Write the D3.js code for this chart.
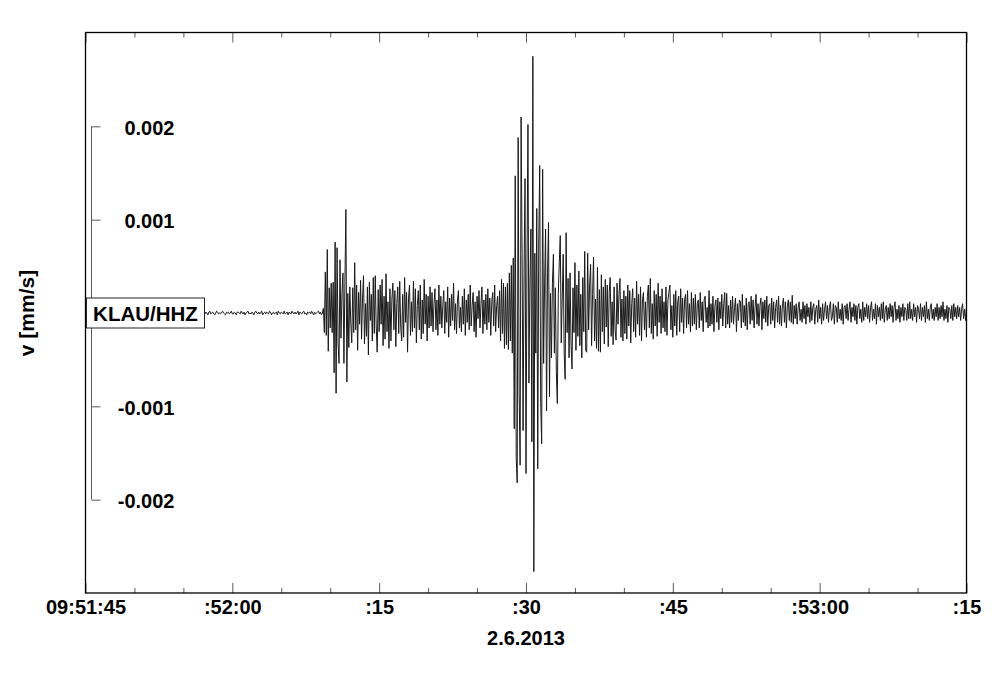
<!DOCTYPE html>
<html><head><meta charset="utf-8">
<script src="https://cdn.jsdelivr.net/npm/d3@7"></script>
<style>
html,body{margin:0;padding:0;background:#fff;}
svg{display:block;}
</style></head><body>
<svg id="chart" width="1000" height="677"></svg>
<script>
// ---------- DATA ----------
const stationLabel = "KLAU/HHZ";
const yAxisTitle = "v [mm/s]";
const dateLabel = "2.6.2013";
const timeStart = "2013-06-02T09:51:45Z";
const timeEnd = "2013-06-02T09:53:15Z";
const traceStart = "2013-06-02T09:51:57Z";
const sampleStepSec = 0.1;          // one value every 0.1 s
const valueUnit = 1e-5;              // trace values below are in 1e-5 mm/s

const quietNoise = [
 0,1,-1,1,0,-2,1,2,-1,0, 1,-1,-2,0,2,1,-1,0,-1,1, 2,0,-1,-2,1,0,1,-1,0,2, -1,-1,1,0,-2,1,1,0,-1,2,
 0,-1,1,-2,0,1,2,-1,0,-1, 1,0,-2,1,2,0,-1,1,-1,0, 2,-2,0,1,-1,1,0,-1,2,1, -2,0,1,-1,0,1,-2,2,0,-1,
 1,0,-1,2,-1,0,1,-2,1,0, -1,2,0,-1,1,-1,0,2,-2,1, 0,-1,1,2,-1,0,-2,1,0,1, -1,2,0,-2,1,-1,0,1,2,-1, 1,-2,0
];
const pPhase = [
 5,-21,44,-24,68,-41,27,-16,32,-21,33,-64,76,-86,70,-32,-54,57,-27,21,43,-54,32,111,-74,21,-37,28,-11,-32,27,-21,54
];
const pCoda = [
 -18,30,-40,22,-12,35,-28,15,40,-33, 10,-25,28,-45,33,-8,20,-30,38,-22, 40,-15,-42,25,-20,30,-12,36,-35,18, -28,42,-20,12,-38,26,
 -30,15,32,-18,24,-36,10,28,-22,34, -14,-30,20,-26,38,-10,22,-42,16,30, -24,12,-20,34,-16,26,-32,8,24,-18, 30,-28,14,-22,36,-12,20,-30,18,-16, 28,
 -14,22,-20,10,26,-18,14,-24,30,-12, 18,-16,8,24,-22,12,-10,28,-26,16, -14,20,-8,32,-18,10,-22,14,24,-16, 6,-20,18,-12,26,-24,14,-10,20,-18,
 30,-14,8,22,-20,12,-26,18,-6,24, -16,10,28,-22,14,-12,20,-18,26,-10, 16,-24,12,22,-14,30,-20,8,18,-16,
 24,-30,36,-22,32,-38,28,-34
];
const sPhase = [
 32,-39,43,-30,51,-43,59,-124,147,-155, -182,188,-86,-163,210,64,-126,43,144,-172, 54,202,-75,32,90,-138,275,-277,64,-43, 112,-167,75,158,-96
];
const sCoda = [
 -140,154,-54,32,90,-105,43,97,-90,21, -48,32,63,-43,27,-64,-97,21,54,83, -32,16,63,-43,-71,86,-21,37,-48,43, -32,-60,27,-21,54,
 -40,30,-25,45,-35,20,-48,38,-20,66, -40,-42,64,-18,30,52,-35,20,60,-30, 15,-38,49,-41,25,-42,41,-20,28,-33, 36,-15,30,-36,22,38,-25,12,-34,28, -18,-29,32,-12,20,37,-26,15,-30,24,
 -22,18,-28,30,-14,24,-32,10,26,-20, 16,-26,34,-12,20,-24,28,-30,14,22, -18,12,-26,18,30,-16,37,-22,10,-28, 24,-14,20,-25,32,-10,18,-22,26,-16,
 12,-20,28,-24,14,22,30,-18,8,-26, 20,-14,24,-24,12,18,-20,26,-10,16, -22,14,20,-16,24,-12,10,-20,22,-14
];
const lateCoda = [
 16,-12,20,-18,10,14,-16,22,-8,12, -20,14,18,-10,6,-16,24,-14,10,-12, 18,-20,8,14,-10,16,-18,12,-6,20, -14,10,22,-16,21,-12,8,-16,14,-10,
 18,-12,6,16,-20,10,-8,14,12,-16, 20,-10,8,-14,16,-18,10,12,-12,18, -8,14,-16,6,20,-12,10,-14,8,16, -18,12,-6,14,-10,18,-14,8,10,-12,
 16,-8,12,-16,6,14,-10,18,-12,8, -14,10,16,-10,12,-16,8,14,-8,12,
 -10,19,-12,8,-6,10,-12,6,12,-8, 4,-10,12,-6,8,-12,10,-4,6,-10, 12,-8,6,10,-12,4,8,-10,14,-6, 6,-12,10,-8,4,12,-6,8,-10,6,
 12,-8,-4,10,-12,8,6,-10,12,-6, 4,-8,10,-12,6,8,-6,10,-8,4, 12,-10,6,-4,10,-8,8,-12,6,10, -6,4,-10,12,-8,6,-4,10,-6,8,
 -10,6,12,-8,4,-6,10,-12,8,-4, 6,-8,10,-6,12,-10,4,8,-8,6, -6,10,-4,8,-10,6,12,-8,4,-6, 8,-10,6,-4,10,-8,6,4,-8,10,
 -6,12,-6,4,-8,10,-4,6,-10,8, 4,-6,10,-8,6,-4,8,-10,12,-6, 4,-8,6,10,-6,4,-8,6,-4,10, -8,6,-6,8,-4,12,-8,4,-6,8,
 -10,6,4,-6,8,-8,10,-4,6,-6, 8,-4,6,-8,4,10,-6,4,-8,6
];

const xTickLabels = ["09:51:45", ":52:00", ":15", ":30", ":45", ":53:00", ":15"];
const yTickValues = [0.002, 0.001, -0.001, -0.002];
const yTickLabels = ["0.002", "0.001", "-0.001", "-0.002"];
const yDomain = [-0.003, 0.003];

// ---------- LAYOUT ----------
const W = 1000, H = 677;
const frame = {left: 85.5, right: 966.5, top: 32.5, bottom: 593};
const FONT = "'Liberation Sans', Arial, Helvetica, sans-serif";
const tickColor = "#5a5a5a";

const svg = d3.select("#chart");
svg.append("rect").attr("width", W).attr("height", H).attr("fill", "#fff");

const parse = d3.utcParse("%Y-%m-%dT%H:%M:%SZ");
const t0 = parse(timeStart), t1 = parse(timeEnd), tr0 = parse(traceStart);

const x = d3.scaleUtc().domain([t0, t1]).range([frame.left, frame.right]);
const y = d3.scaleLinear().domain(yDomain).range([frame.bottom, frame.top + 0.5]);

const trace = [].concat(quietNoise, pPhase, pCoda, sPhase, sCoda, lateCoda);

// trace
const line = d3.line()
  .x((d, i) => x(new Date(tr0.getTime() + i * sampleStepSec * 1000)))
  .y(d => y(d * valueUnit));

svg.append("defs").append("clipPath").attr("id", "plotclip")
  .append("rect").attr("x", frame.left).attr("y", frame.top)
  .attr("width", frame.right - frame.left).attr("height", frame.bottom - frame.top);

svg.append("path")
  .datum(trace)
  .attr("clip-path", "url(#plotclip)")
  .attr("d", line)
  .attr("fill", "none")
  .attr("stroke", "#1a1a1a")
  .attr("stroke-width", 1)
  .attr("stroke-linejoin", "round");

// x axes (ticks inward)
const majorTicks = x.ticks(d3.utcSecond.every(15));
const minorTicks = x.ticks(d3.utcSecond.every(5)).filter(d => d.getUTCSeconds() % 15 !== 0);

function styleAxis(g) {
  g.select(".domain").remove();
  g.attr("color", tickColor);
  g.selectAll(".tick line").attr("stroke-width", 1);
}

svg.append("g").attr("transform", `translate(0,${frame.bottom})`)
  .call(d3.axisBottom(x).tickValues(minorTicks).tickSizeInner(-5).tickSizeOuter(0).tickFormat(""))
  .call(styleAxis);
const xb = svg.append("g").attr("transform", `translate(0,${frame.bottom})`)
  .call(d3.axisBottom(x).tickValues(majorTicks).tickSizeInner(-10).tickSizeOuter(0)
        .tickPadding(7).tickFormat((d, i) => xTickLabels[i]))
  .call(styleAxis);
xb.attr("font-family", FONT).attr("font-size", 20).attr("font-weight", "bold");
xb.selectAll(".tick text").attr("fill", "#000");

svg.append("g").attr("transform", `translate(0,${frame.top})`)
  .call(d3.axisTop(x).tickValues(minorTicks).tickSizeInner(-5).tickSizeOuter(0).tickFormat(""))
  .call(styleAxis);
svg.append("g").attr("transform", `translate(0,${frame.top})`)
  .call(d3.axisTop(x).tickValues(majorTicks).tickSizeInner(-10).tickSizeOuter(0).tickFormat(""))
  .call(styleAxis);

// frame
svg.append("rect")
  .attr("x", frame.left).attr("y", frame.top)
  .attr("width", frame.right - frame.left).attr("height", frame.bottom - frame.top)
  .attr("fill", "none").attr("stroke", "#000").attr("stroke-width", 1.3);

// y bracket axis
const yAxisX = 91.5;
const yg = svg.append("g").attr("transform", `translate(${yAxisX},0)`)
  .call(d3.axisRight(y).tickValues(yTickValues).tickSizeInner(9).tickSizeOuter(0)
        .tickFormat((d, i) => yTickLabels[i]));
yg.select(".domain").remove();
yg.attr("color", tickColor).attr("font-family", FONT).attr("font-size", 20).attr("font-weight", "bold");
yg.selectAll(".tick text").attr("fill", "#000").attr("text-anchor", "end").attr("x", 83).attr("dy", "0.4em");
yg.append("line")
  .attr("x1", 0).attr("x2", 0)
  .attr("y1", y(d3.max(yTickValues))).attr("y2", y(d3.min(yTickValues)))
  .attr("stroke", "currentColor").attr("stroke-width", 1);

// station label box
const boxG = svg.append("g");
boxG.append("rect").attr("x", 86.5).attr("y", y(0) - 15).attr("width", 118).attr("height", 30)
  .attr("fill", "#fff").attr("stroke", "#222").attr("stroke-width", 1);
boxG.append("text").attr("x", 145.5).attr("y", y(0) + 7.5)
  .attr("text-anchor", "middle").attr("font-family", FONT).attr("font-size", 20.5).attr("font-weight", "bold")
  .attr("fill", "#000").text(stationLabel);

// y title
svg.append("text")
  .attr("transform", `translate(34,${y(0)}) rotate(-90)`)
  .attr("text-anchor", "middle").attr("font-family", FONT).attr("font-size", 21).attr("font-weight", "bold")
  .attr("fill", "#000").text(yAxisTitle);

// date label
svg.append("text")
  .attr("x", x(majorTicks[3])).attr("y", 645)
  .attr("text-anchor", "middle").attr("font-family", FONT).attr("font-size", 20).attr("font-weight", "bold")
  .attr("fill", "#000").text(dateLabel);
</script>
</body></html>
